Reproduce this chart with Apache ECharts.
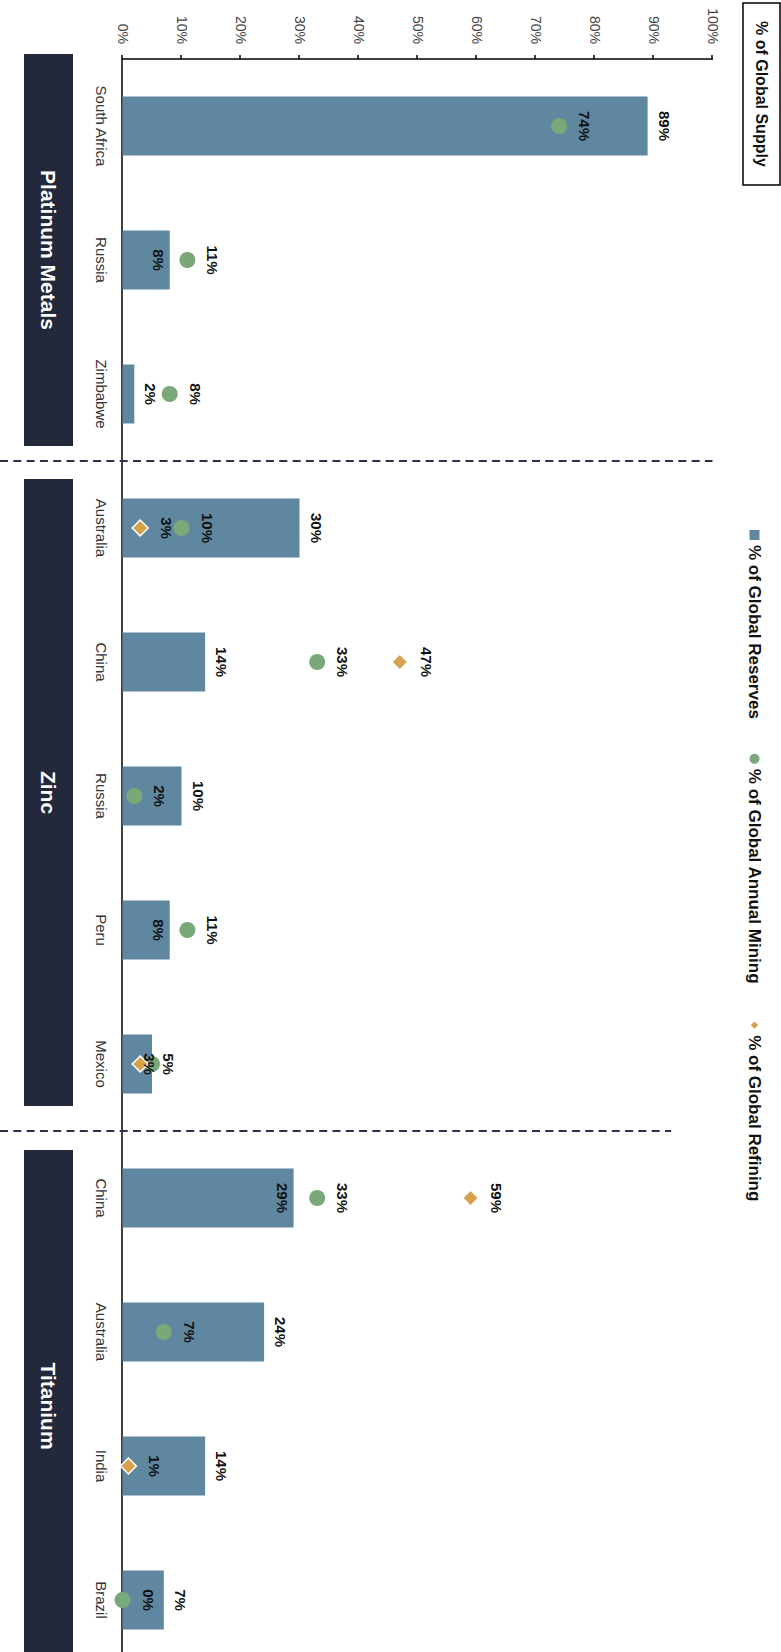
<!DOCTYPE html>
<html>
<head>
<meta charset="utf-8">
<script src="https://cdn.jsdelivr.net/npm/echarts@6/dist/echarts.min.js"></script>
<style>
  html, body { margin: 0; padding: 0; width: 781px; height: 1652px; overflow: hidden; background: #fff; }
  #chart { position: absolute; left: 0; top: 0; width: 1700px; height: 781px;
           transform-origin: 0 0; transform: translate(781px, 0) rotate(90deg); }
</style>
</head>
<body>
<div id="chart"></div>
<script>
// ---- data ----
const categories = ['South Africa', 'Russia', 'Zimbabwe', 'Australia', 'China', 'Russia', 'Peru', 'Mexico', 'China', 'Australia', 'India', 'Brazil'];
const reserves = [89, 8, 2, 30, 14, 10, 8, 5, 29, 24, 14, 7];
const mining = [74, 11, 8, 10, 33, 2, 11, 5, 33, 7, null, 0];
const refining = [null, null, null, 3, 47, null, null, 3, 59, null, 1, null];
const groupNames = ['Platinum Metals', 'Zinc', 'Titanium'];
const groupFirst = [0, 3, 8];
const groupLast = [2, 7, 11];
const valueTicks = [0, 10, 20, 30, 40, 50, 60, 70, 80, 90, 100];
const seriesNames = ['% of Global Reserves', '% of Global Annual Mining', '% of Global Refining'];
const titleText = '% of Global Supply';

// ---- style ----
const FONT = '"Liberation Sans", Arial, sans-serif';
const BAR = '#5f87a0', GREEN = '#7ba878', GOLD = '#d6a24f', NAVY = '#23283b';
const insideBarLabel = [1, 6, 8];
const hiddenMiningLabel = [7];
const refiningOverlay = [7];
const bandInsets = [[-5, 15], [18, 25], [19, 5]];
const dividerTop = [100, 100, 93];

const labelBase = { show: true, fontFamily: FONT, fontSize: 15, fontWeight: 'bold', color: '#111', formatter: p => p.value + '%' };

const barData = reserves.map((v, i) => insideBarLabel.includes(i)
  ? { value: v, label: { position: 'insideTop', distance: 4 } } : v);
const miningData = mining.map((v, i) => hiddenMiningLabel.includes(i)
  ? { value: v, label: { show: false } } : v);
const refiningData = refining.map((v, i) => (refiningOverlay.includes(i) && v != null)
  ? { value: v, label: { position: 'inside', offset: [0, -9] } } : v);

const chart = echarts.init(document.getElementById('chart'), null, { renderer: 'svg' });
chart.setOption({
  animation: false,
  backgroundColor: '#fff',
  title: {
    text: titleText, left: 3, top: 1, padding: [9, 18], borderColor: '#000', borderWidth: 1.5,
    textStyle: { fontFamily: FONT, fontSize: 16, fontWeight: 'bold', color: '#111', lineHeight: 19 }
  },
  legend: {
    left: 530, top: 18, padding: 0, itemGap: 35, itemWidth: 10, itemHeight: 10,
    textStyle: { fontFamily: FONT, fontSize: 17, fontWeight: 'bold', color: '#111' },
    data: [
      { name: seriesNames[0], icon: 'rect' },
      { name: seriesNames[1], icon: 'circle' },
      { name: seriesNames[2], icon: 'diamond' }
    ]
  },
  grid: { left: 59, right: 33, top: 68.5, bottom: 122.5, containLabel: false },
  xAxis: {
    type: 'category', data: categories, position: 'bottom',
    axisLine: { lineStyle: { color: '#000', width: 1.5 } },
    axisTick: { alignWithLabel: true, length: 4, lineStyle: { color: '#000', width: 1.5 } },
    axisLabel: { fontFamily: FONT, fontSize: 15, color: '#333', margin: 14, interval: 0 }
  },
  yAxis: {
    type: 'value', min: valueTicks[0], max: valueTicks[valueTicks.length - 1], interval: valueTicks[1] - valueTicks[0],
    axisLine: { show: true, lineStyle: { color: '#000', width: 1.5 } },
    axisTick: { show: true, length: 4, lineStyle: { color: '#000', width: 1.5 } },
    splitLine: { show: false },
    axisLabel: { fontFamily: FONT, fontSize: 14, color: '#444', margin: 15, formatter: '{value}%' }
  },
  series: [
    {
      type: 'custom', silent: true, clip: false, z: 1,
      data: groupNames.map((n, i) => [groupFirst[i], groupLast[i], i]),
      encode: { x: [0, 1] },
      renderItem: function (params, api) {
        const i = api.value(2);
        const a = api.coord([api.value(0), 0]);
        const b = api.coord([api.value(1), 0]);
        const w = api.size([1, 0])[0];
        const x0 = a[0] - w / 2 + bandInsets[i][0];
        const x1 = b[0] + w / 2 - bandInsets[i][1];
        const yTop = a[1] + 49.5, h = 49;
        const children = [
          { type: 'rect', shape: { x: x0, y: yTop, width: x1 - x0, height: h }, style: { fill: NAVY } },
          { type: 'text', style: { text: groupNames[i], x: (x0 + x1) / 2, y: yTop + h / 2, align: 'center', verticalAlign: 'middle',
              fill: '#fff', fontFamily: FONT, fontSize: 21, fontWeight: 'bold' } }
        ];
        if (i > 0) {
          const xd = a[0] - w / 2;
          const yEnd = api.coord([api.value(0), dividerTop[i]])[1];
          children.push({ type: 'line', shape: { x1: xd, y1: api.getHeight(), x2: xd, y2: yEnd },
            style: { stroke: '#2b3050', lineWidth: 2, lineDash: [8, 5.3] } });
        }
        return { type: 'group', children: children };
      }
    },
    {
      name: seriesNames[0], type: 'bar', barWidth: 59, z: 2,
      itemStyle: { color: BAR },
      label: Object.assign({}, labelBase, { position: 'top', distance: 9 }),
      data: barData
    },
    {
      name: seriesNames[1], type: 'scatter', symbol: 'circle', symbolSize: 16, z: 3,
      itemStyle: { color: GREEN, opacity: 1 },
      label: Object.assign({}, labelBase, { position: 'top', distance: 10 }),
      data: miningData
    },
    {
      name: seriesNames[2], type: 'scatter', symbol: 'diamond', symbolSize: 16, z: 4,
      itemStyle: { color: GOLD, borderColor: '#fff', borderWidth: 1.5, opacity: 1 },
      label: Object.assign({}, labelBase, { position: 'top', distance: 10 }),
      data: refiningData
    }
  ]
});
</script>
</body>
</html>
